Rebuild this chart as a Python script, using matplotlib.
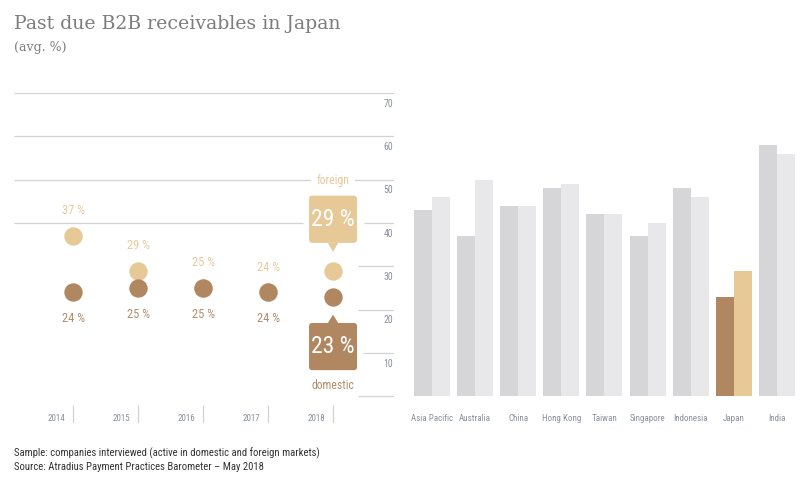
"""Past due B2B receivables in Japan: dot history plus regional bar comparison."""

import matplotlib

matplotlib.use("Agg")

import matplotlib.pyplot as plt  # noqa: E402
from matplotlib.patches import FancyBboxPatch, Polygon  # noqa: E402

# Data
years = ["2014", "2015", "2016", "2017", "2018"]
domestic = [24, 25, 25, 24, 23]
foreign = [37, 29, 25, 24, 29]

countries = ["Asia Pacific", "Australia", "China", "Hong Kong", "Taiwan",
             "Singapore", "Indonesia", "Japan", "India"]
country_domestic = [43, 37, 44, 48, 42, 37, 48, 23, 58]
country_foreign = [46, 50, 44, 49, 42, 40, 46, 29, 56]
grid_values = [0, 10, 20, 30, 40, 50, 60, 70]

# Colours
_DOM = "#b08761"
_FOR = "#e6c996"
_DOM_TXT = "#b48d6c"
_FOR_TXT = "#e8c99c"
_BAR_DOM = "#d6d6d8"
_BAR_FOR = "#e8e8ea"
_GRID = "#d2d2d2"
_TICK = "#8a909c"
_TITLE = "#7d7d7d"
_NARROW = ["Liberation Sans Narrow", "Roboto Condensed", "DejaVu Sans"]

W, H = 811, 491
fig = plt.figure(figsize=(W / 100, H / 100), dpi=100, facecolor="white")

y_lo, y_hi = -6.2, 70
ax_bottom = (H - 423) / H
ax_height = 330 / H
ax_l = fig.add_axes([14 / W, ax_bottom, 380 / W, ax_height])
ax_r = fig.add_axes([394 / W, ax_bottom, 417 / W, ax_height])
for ax in (ax_l, ax_r):
    ax.set_ylim(y_lo, y_hi)
    ax.axis("off")

# --- Left panel: yearly dots ---
x_lo, x_hi = -0.908, 4.938
ax_l.set_xlim(x_lo, x_hi)
xs = list(range(len(years)))

# Gridlines (full width above 40, short stubs near the axis below)
for g in grid_values:
    if g >= 50:
        ax_l.hlines(g, x_lo, x_hi, color=_GRID, lw=0.9, zorder=1)
    elif g == 40:
        ax_l.hlines(g, x_lo, 3.54, color=_GRID, lw=0.9, zorder=1)
        ax_l.hlines(g, 4.48, x_hi, color=_GRID, lw=0.9, zorder=1)
    elif g == 10:
        ax_l.hlines(g, 4.46, x_hi, color=_GRID, lw=0.9, zorder=1)
    else:
        ax_l.hlines(g, 4.385, x_hi, color=_GRID, lw=0.9, zorder=1)
    if g > 0:
        ax_l.text(4.923, g - 2.5, str(g), ha="right", va="center",
                  fontsize=7, color=_TICK, family=_NARROW)

# Year ticks and labels
for x, yr in zip(xs, years):
    ax_l.vlines(x, -6.2, -2.05, color=_GRID, lw=0.9)
    ax_l.text(x - 0.12, -5.05, yr, ha="right", va="center",
              fontsize=6.5, color=_TICK, family=_NARROW)

ax_l.scatter(xs, foreign, s=175, color=_FOR, zorder=3, linewidths=0)
ax_l.scatter(xs, domestic, s=175, color=_DOM, zorder=4, linewidths=0)

# Value labels for earlier years
for x, f, d in zip(xs[:-1], foreign[:-1], domestic[:-1]):
    ax_l.annotate(f"{f} %", (x, f), xytext=(0, 18), textcoords="offset points",
                  ha="center", va="center", fontsize=9, color=_FOR_TXT,
                  family=_NARROW)
    ax_l.annotate(f"{d} %", (x, d), xytext=(0, -19), textcoords="offset points",
                  ha="center", va="center", fontsize=9, color=_DOM_TXT,
                  family=_NARROW)

# Callouts for the latest year
xl = xs[-1]
bw = 0.738
aspect = (65 / 4.325)


def callout(val, bottom_off, top_off, tip_off, color, up):
    y0, y1 = val + bottom_off, val + top_off
    box = FancyBboxPatch((xl - bw / 2, y0), bw, y1 - y0,
                         boxstyle="round,pad=0,rounding_size=0.05",
                         mutation_aspect=aspect, facecolor=color,
                         edgecolor="none", zorder=5)
    ax_l.add_patch(box)
    base = y0 if not up else y1
    tri = Polygon([(xl - 0.08, base), (xl + 0.08, base), (xl, val + tip_off)],
                  closed=True, facecolor=color, edgecolor="none", zorder=5)
    ax_l.add_patch(tri)
    ax_l.text(xl, (y0 + y1) / 2, f"{val} %", ha="center", va="center",
              fontsize=17, color="white", family=_NARROW, zorder=6)


callout(foreign[-1], 6.4, 17.3, 4.3, _FOR, up=False)
callout(domestic[-1], -17.0, -6.1, -4.2, _DOM, up=True)

ax_l.text(xl, foreign[-1] + 20.8, "foreign", ha="center", va="center",
          fontsize=8.5, color=_FOR_TXT, family=_NARROW, zorder=6,
          bbox=dict(boxstyle="square,pad=0.5", facecolor="white",
                    edgecolor="none"))
ax_l.text(xl, domestic[-1] - 20.6, "domestic", ha="center", va="center",
          fontsize=8.5, color=_DOM_TXT, family=_NARROW, zorder=6)

# --- Right panel: country bars ---
ax_r.set_xlim(-0.8817, 8.79)
bar_w = 0.418
for i, (c, d, f) in enumerate(zip(countries, country_domestic, country_foreign)):
    is_jp = c == "Japan"
    ax_r.bar(i - bar_w / 2, d, width=bar_w, color=_DOM if is_jp else _BAR_DOM,
             linewidth=0)
    ax_r.bar(i + bar_w / 2, f, width=bar_w, color=_FOR if is_jp else _BAR_FOR,
             linewidth=0)
    ax_r.text(i, -5.25, c, ha="center", va="center", fontsize=6.5,
              color=_TICK, family=_NARROW)

# --- Titles and footer ---
fig.text(14 / W, 1 - 24 / H, "Past due B2B receivables in Japan",
         ha="left", va="center", fontsize=13.6, color=_TITLE,
         family="DejaVu Serif")
fig.text(14 / W, 1 - 48 / H, "(avg. %)", ha="left", va="center",
         fontsize=9, color=_TITLE, family="DejaVu Serif")
fig.text(14 / W, 1 - 453 / H,
         "Sample: companies interviewed (active in domestic and foreign markets)",
         ha="left", va="center", fontsize=7.7, color="#333333", family=_NARROW)
fig.text(14 / W, 1 - 467 / H,
         "Source: Atradius Payment Practices Barometer \u2013 May 2018",
         ha="left", va="center", fontsize=7.7, color="#333333", family=_NARROW)

fig.savefig("out.png", dpi=100, facecolor="white")
plt.close(fig)
